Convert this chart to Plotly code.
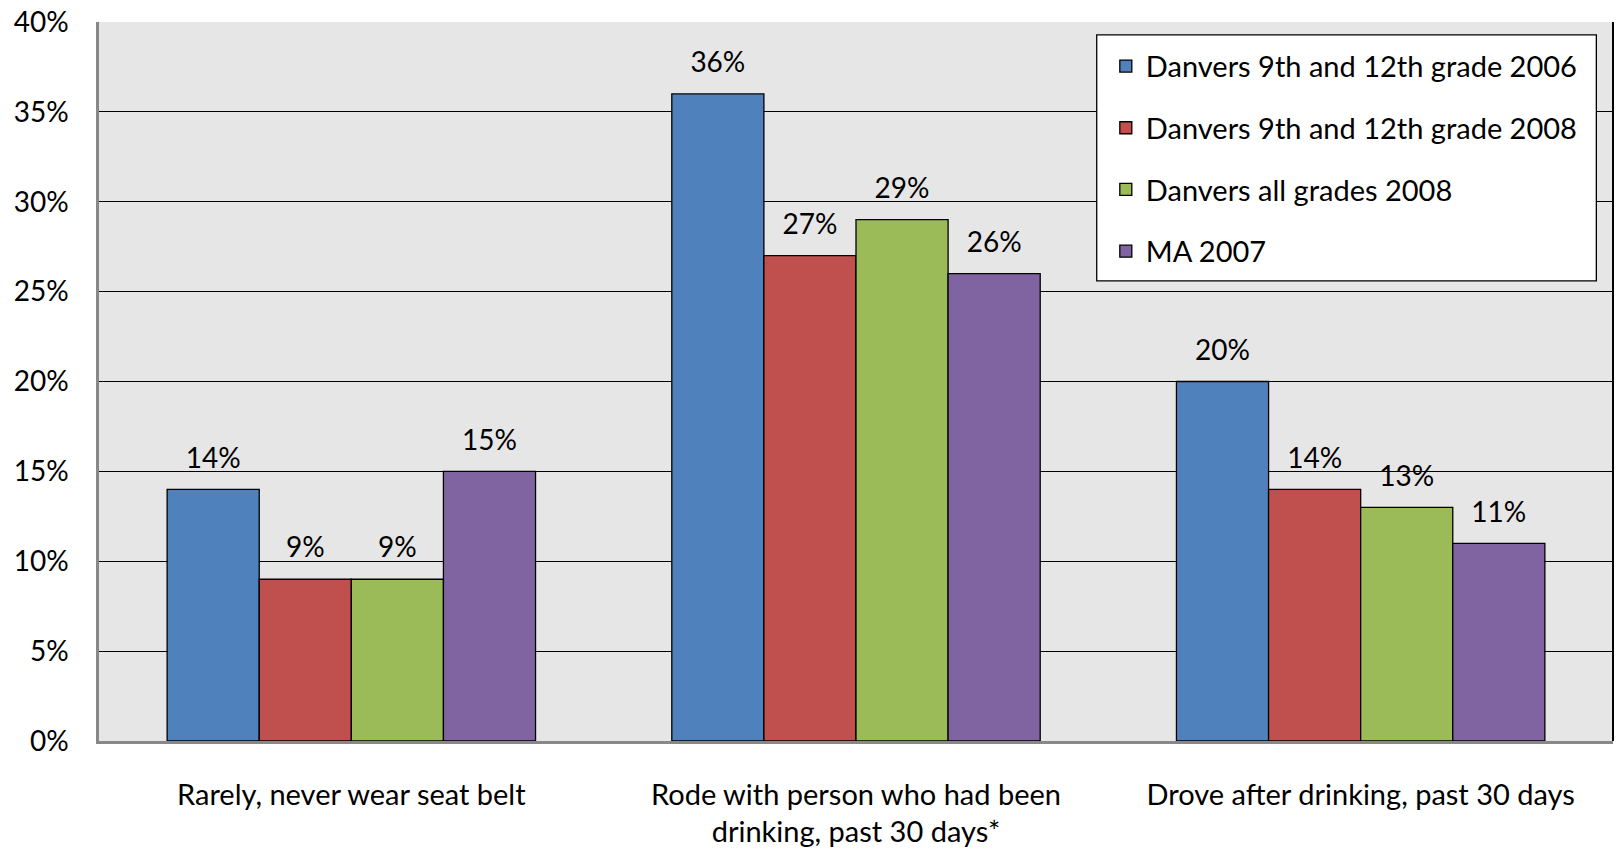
import plotly.graph_objects as go

categories = ["Rarely, never wear seat belt",
              "Rode with person who had been<br>drinking, past 30 days*",
              "Drove after drinking, past 30 days"]
series_names = ["Danvers 9th and 12th grade 2006",
                "Danvers 9th and 12th grade 2008",
                "Danvers all grades 2008",
                "MA 2007"]
values_2006_912 = [14, 36, 20]
values_2008_912 = [9, 27, 14]
values_2008_all = [9, 29, 13]
values_ma_2007 = [15, 26, 11]
series_values = [values_2006_912, values_2008_912, values_2008_all, values_ma_2007]
colors = ["#4F81BD", "#C0504D", "#9BBB59", "#8064A2"]
y_ticks = [0, 5, 10, 15, 20, 25, 30, 35, 40]
y_tick_labels = ["0%", "5%", "10%", "15%", "20%", "25%", "30%", "35%", "40%"]

FONT = "Lato"
FS = 28
fig = go.Figure()
for i, (name, vals, col) in enumerate(zip(series_names, series_values, colors)):
    fig.add_trace(go.Bar(
        x=categories, y=vals, name=name,
        marker=dict(color=col, line=dict(color="black", width=1.3)),
        offsetgroup=str(i), legendgroup=f"g{i}",
    ))
for i, vals in enumerate(series_values):
    fig.add_trace(go.Scatter(
        x=categories, y=vals, mode="markers+text",
        text=[f"{v}%" for v in vals], textposition="top center",
        textfont=dict(family=FONT, size=FS, color="black"),
        marker=dict(size=22, opacity=0),
        offsetgroup=str(i), showlegend=False, hoverinfo="skip",
        cliponaxis=False,
    ))

fig.update_layout(
    width=1616, height=851,
    margin=dict(l=99, r=3, t=22, b=110),
    paper_bgcolor="white", plot_bgcolor="#E6E6E6",
    barmode="group", bargap=0.27, bargroupgap=0,
    scattermode="group", scattergap=0.27,
    font=dict(family=FONT, size=FS, color="black"),
    showlegend=True,
    legend=dict(x=0.665, xanchor="left", y=0.974, yanchor="top",
                bgcolor="rgba(0,0,0,0)", borderwidth=0,
                font=dict(family=FONT, size=29, color="black"),
                tracegroupgap=21, itemwidth=30),
    xaxis=dict(showline=True, linecolor="#888888", linewidth=2.5,
               ticks="", ticklabelstandoff=26,
               tickfont=dict(family=FONT, size=29, color="black")),
    yaxis=dict(range=[0, 40], tickvals=y_ticks, ticktext=y_tick_labels,
               showgrid=True, gridcolor="black", gridwidth=1.3,
               showline=True, linecolor="#888888", linewidth=2.5,
               zeroline=False, ticks="", ticklabelstandoff=22,
               tickfont=dict(family=FONT, size=FS, color="black")),
)
fig.add_shape(type="rect", xref="paper", yref="paper",
              x0=0.659, x1=0.989, y0=0.640, y1=0.982,
              fillcolor="white", line=dict(color="black", width=1.3), layer="above")
fig.add_shape(type="line", xref="paper", yref="paper", x0=1, x1=1, y0=0, y1=1,
              line=dict(color="black", width=2))
fig.write_html("out.html", config={"displayModeBar": False},
               post_script="document.body.style.margin='0';")
